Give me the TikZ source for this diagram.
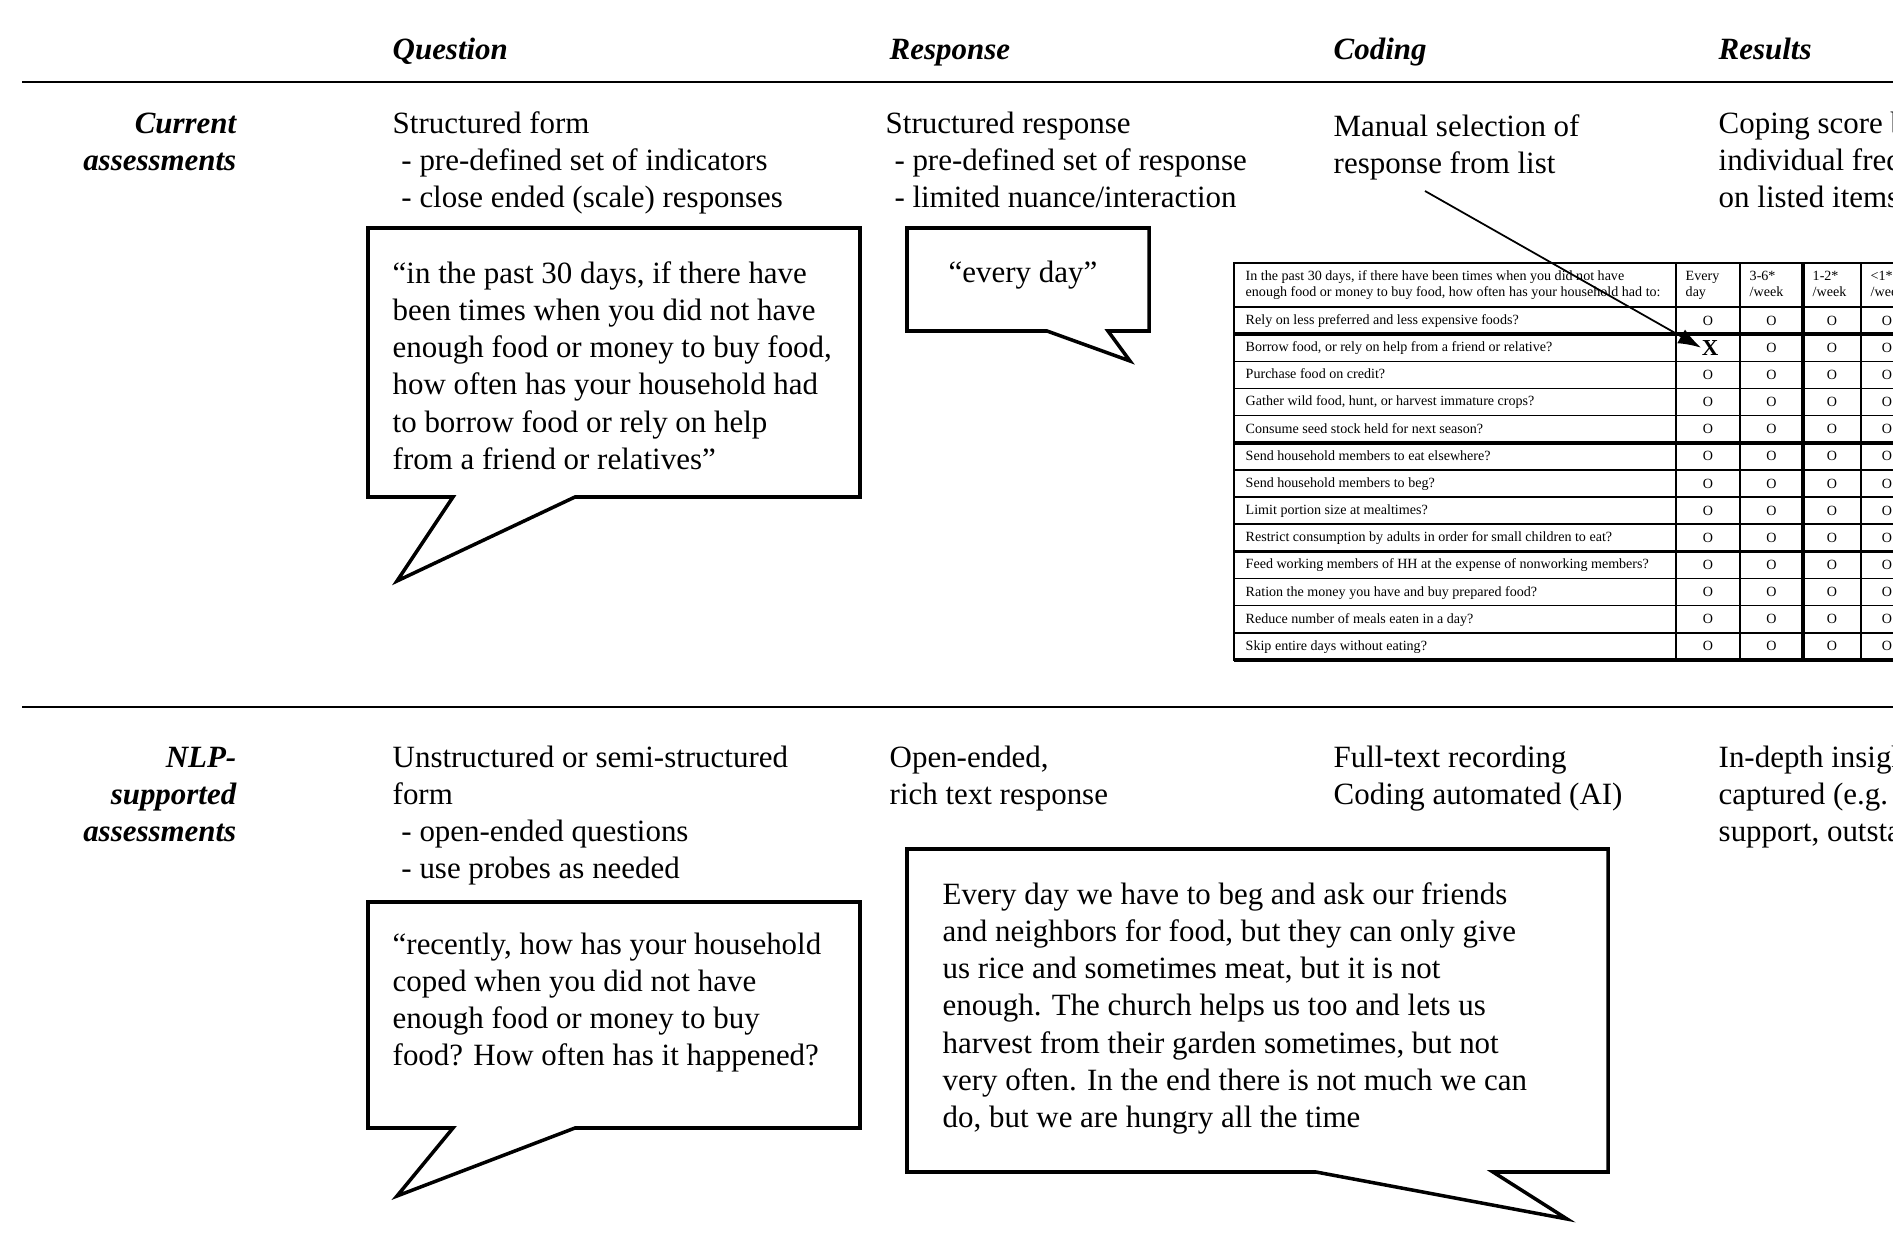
\documentclass[tikz,border=0pt]{standalone}
\usepackage{fontspec}
\setmainfont{Liberation Serif}
\usetikzlibrary{arrows.meta,positioning}

\begin{document}
\begin{tikzpicture}[x=0.01cm, y=-0.01cm,
  colhead/.style={font=\fontsize{8.8}{10.6}\selectfont\bfseries\itshape, inner sep=0pt, anchor=base west},
  rowhead/.style={font=\fontsize{8.8}{10.6}\selectfont\bfseries\itshape, inner sep=0pt, align=right, anchor=base east},
  body/.style={font=\fontsize{8.8}{10.6}\selectfont, inner sep=0pt, align=left, anchor=base west},
  bubble/.style={draw, line width=1pt, line join=miter, fill=white},
  rule/.style={line width=0.5pt},
  tabtext/.style={font=\fontsize{4}{4.6}\selectfont, inner sep=0pt, align=left, anchor=base west},
  cell/.style={font=\fontsize{4}{4.6}\selectfont, inner sep=0pt},
  tline/.style={line width=0.4pt},
  tbold/.style={line width=1pt},
  pointer/.style={-{Latex[length=6.5pt,width=4.5pt]}, line width=0.5pt}]
\useasboundingbox (0,0) rectangle (1893,1258);
\begin{scope}
\clip (0,0) rectangle (1893,1258);

% column heads and rules
\node[colhead] (qhead) at (392,60) {Question};
\node[colhead] (rhead) at (889,60) {Response};
\node[colhead] (chead) at (1333,60) {Coding};
\node[colhead] (reshead) at (1718,60) {Results};
\draw[rule] (22,82) -- (1893,82);
\draw[rule] (22,707) -- (1893,707);

% current assessments (multi-line nodes sit on their last baseline)
\node[rowhead] (cur) at (237,170.3) {Current\\assessments};
\node[body] (qcur) at (392,207.6) {Structured form\\\hspace*{2.5pt}- pre-defined set of indicators\\\hspace*{2.5pt}- close ended (scale) responses};
\node[body] (rcur) at (885,207.6) {Structured response\\\hspace*{2.5pt}- pre-defined set of response\\\hspace*{2.5pt}- limited nuance/interaction};
\node[body] (ccur) at (1333,173.3) {Manual selection of\\response from list};
\node[body] (rescur) at (1718,207.6) {Coping score based on\\individual frequency\\on listed items};

\draw[bubble] (368,228) -- (860,228) -- (860,497) -- (575,497) -- (397,581) -- (453,497) -- (368,497) -- cycle;
\node[body] (qquote) at (392,469.5) {“in the past 30 days, if there have\\been times when you did not have\\enough food or money to buy food,\\how often has your household had\\to borrow food or rely on help\\from a friend or relatives”};
\draw[bubble] (907,228) -- (1149,228) -- (1149,331) -- (1108,331) -- (1130,361) -- (1047,331) -- (907,331) -- cycle;
\node[body, anchor=base] (rquote) at (1023,283) {“every day”};

% coping strategies table
\node[tabtext] (thead) at (1245,296.2) {In the past 30 days, if there have been times when you did not have\\enough food or money to buy food, how often has your household had to:};
\foreach \lbl/\cx [count=\c] in {{Every\\day}/1685, {3-6*\\/week}/1749, {1-2*\\/week}/1812, {<1*\\/week}/1870}
  \node[tabtext] (f\c) at (\cx,296.2) {\lbl};
\foreach \txt [count=\i] in {Rely on less preferred and less expensive foods?,
  {Borrow food, or rely on help from a friend or relative?},
  Purchase food on credit?,
  {Gather wild food, hunt, or harvest immature crops?},
  Consume seed stock held for next season?,
  Send household members to eat elsewhere?,
  Send household members to beg?,
  Limit portion size at mealtimes?,
  Restrict consumption by adults in order for small children to eat?,
  Feed working members of HH at the expense of nonworking members?,
  Ration the money you have and buy prepared food?,
  Reduce number of meals eaten in a day?,
  Skip entire days without eating?}
  \node[tabtext] (s\i) at (1245,297.4+27.15*\i) {\txt};
\foreach \i in {1,3,4,...,13}
  \node[cell] (o\i-1) at (1708,293.4+27.15*\i) {O};
\foreach \i in {1,...,13}
  \foreach \cx [count=\c from 2] in {1771.5,1832,1887}
    \node[cell] (o\i-\c) at (\cx,293.4+27.15*\i) {O};
\node[cell, font=\fontsize{6.5}{6.5}\selectfont\bfseries] (xmark) at (1710,347.7) {X};
\draw[tline] (1234,263) rectangle (1924,660);
\foreach \i in {0,...,12}
  \draw[tline] (1234,307+27.15*\i) -- (1924,307+27.15*\i);
\foreach \i in {1,5,9,13}
  \draw[tbold] (1234,307+27.15*\i) -- (1924,307+27.15*\i);
\foreach \cx in {1676,1740,1861}
  \draw[tline] (\cx,263) -- (\cx,660);
\draw[tbold] (1803,263) -- (1803,660);

\coordinate (pick) at (1425,191);
\draw[pointer] (pick) -- (xmark.west);

% NLP-supported assessments
\node[rowhead] (nlp) at (237,841.6) {NLP-\\supported\\assessments};
\node[body] (qnlp) at (392,878.9) {Unstructured or semi-structured\\form\\\hspace*{2.5pt}- open-ended questions\\\hspace*{2.5pt}- use probes as needed};
\node[body] (rnlp) at (889,804.3) {Open-ended,\\rich text response};
\node[body] (cnlp) at (1333,804.3) {Full-text recording\\Coding automated (AI)};
\node[body] (resnlp) at (1718,841.6) {In-depth insights\\captured (e.g. church\\support, outstanding};

\draw[bubble] (368,902) -- (860,902) -- (860,1128) -- (575,1128) -- (397,1196) -- (453,1128) -- (368,1128) -- cycle;
\node[body] (qopen) at (392,1065.9) {“recently, how has your household\\coped when you did not have\\enough food or money to buy\\food? How often has it happened?};
\draw[bubble] (907,849) -- (1608,849) -- (1608,1172) -- (1493,1172) -- (1567,1219) -- (1316,1172) -- (907,1172) -- cycle;
\node[body] (ropen) at (942,1127.8) {Every day we have to beg and ask our friends\\and neighbors for food, but they can only give\\us rice and sometimes meat, but it is not\\enough. The church helps us too and lets us\\harvest from their garden sometimes, but not\\very often. In the end there is not much we can\\do, but we are hungry all the time};
\end{scope}
\end{tikzpicture}
\end{document}
